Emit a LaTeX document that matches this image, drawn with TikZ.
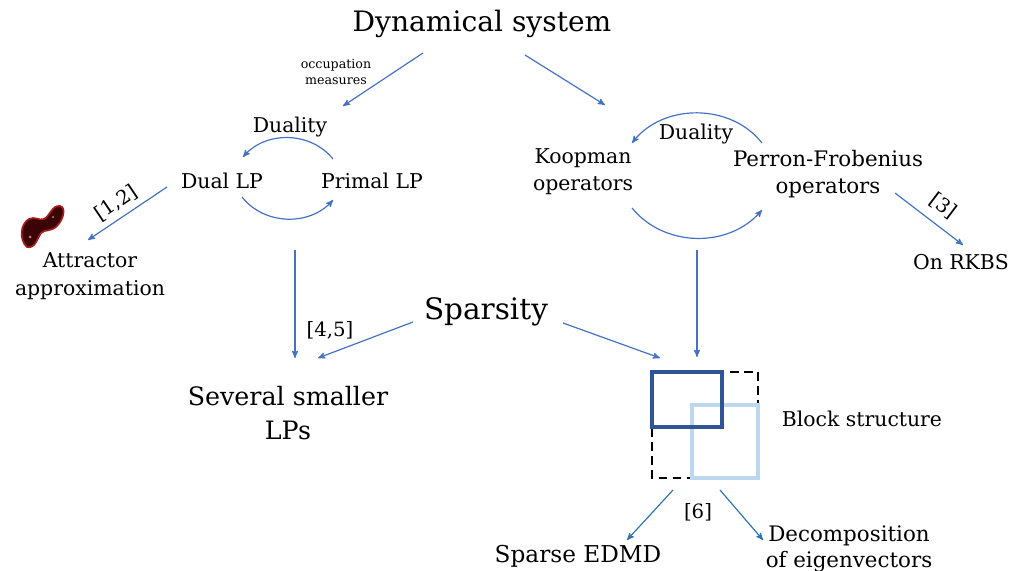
\documentclass[tikz,border=0pt]{standalone}
\usepackage{fontspec}
\setmainfont{DejaVu Serif}
\usepackage{tikz}
\usetikzlibrary{shapes,arrows}
\definecolor{arrblue}{HTML}{4472C4}
\definecolor{refblue}{HTML}{2E75B6}
\definecolor{darkbox}{HTML}{2F5597}
\definecolor{lightbox}{HTML}{BDD7EE}
\definecolor{blobred}{HTML}{3A0406}
\definecolor{blobedge}{HTML}{A81C1C}
\tikzstyle{invis} = [draw=none, align=center, inner sep=0pt]
\tikzstyle{txt} = [invis, font=\fontsize{14.5}{19}\selectfont]
\tikzstyle{big} = [invis, font=\fontsize{20}{24}\selectfont]
\tikzstyle{small} = [invis, font=\fontsize{9}{11}\selectfont]
\tikzstyle{cite} = [invis, font=\fontsize{14}{17}\selectfont]
\tikzstyle{blockbox} = [line width=2.8pt]

\begin{document}
\begin{tikzpicture}[->,>=stealth',x=0.025cm,y=0.025cm,every edge/.style={draw=arrblue, line width=0.85pt}]
\useasboundingbox (0,0) rectangle (1013,-571);

\node[big] (dyn) at (482,-24) {Dynamical system};
\node[small] (occ) at (336,-72) {occupation\\measures};

\node[txt] (dualL) at (290,-127) {Duality};
\node[txt] (dualLP) at (222,-181) {Dual LP};
\node[txt] (primalLP) at (372,-181) {Primal LP};
\node[txt, font=\fontsize{14.5}{20}\selectfont] (attr) at (90,-276) {Attractor\\approximation};
\node[cite, rotate=34] (c12) at (116,-203) {[1,2]};

\node[txt] (koop) at (583,-172) {Koopman\\operators};
\node[txt, font=\fontsize{15.2}{19}\selectfont] (pf) at (828,-174) {Perron-Frobenius\\operators};
\node[txt] (dualR) at (696,-134) {Duality};
\node[cite, rotate=-37] (c3) at (943,-206) {[3]};
\node[txt] (rkbs) at (961,-262) {On RKBS};

\node[big, font=\fontsize{21}{25}\selectfont] (spars) at (486,-312) {Sparsity};
\node[cite] (c45) at (330,-330) {[4,5]};
\node[txt, font=\fontsize{18}{24}\selectfont] (several) at (288,-413) {Several smaller\\LPs};

\node[txt] (block) at (862,-419) {Block structure};
\node[cite] (c6) at (698,-512) {[6]};
\node[txt, font=\fontsize{16.5}{20}\selectfont] (sedmd) at (578,-556) {Sparse EDMD};
\node[txt, font=\fontsize{15.2}{18}\selectfont] (decomp) at (849,-549) {Decomposition\\of eigenvectors};

% arrow ends
\coordinate (d1) at (423,-53);  \coordinate (d2) at (343,-106);
\coordinate (d3) at (525,-55);  \coordinate (d4) at (605,-105);
\coordinate (l1) at (333,-159); \coordinate (l2) at (243,-157);
\coordinate (l3) at (242,-197); \coordinate (l4) at (333,-200);
\coordinate (r1) at (762,-143); \coordinate (r2) at (632,-143);
\coordinate (r3) at (632,-208); \coordinate (r4) at (762,-210);
\coordinate (a1) at (167,-187); \coordinate (a2) at (88,-240);
\coordinate (p1) at (895,-193); \coordinate (p2) at (963,-245);
\coordinate (v1) at (295,-250); \coordinate (v2) at (295,-358);
\coordinate (v3) at (697,-250); \coordinate (v4) at (697,-357);
\coordinate (s1) at (413,-322); \coordinate (s2) at (318,-358);
\coordinate (s3) at (563,-323); \coordinate (s4) at (660,-358);
\coordinate (b1) at (673,-490); \coordinate (b2) at (627,-540);
\coordinate (b3) at (720,-490); \coordinate (b4) at (763,-540);

\path
(d1) edge [] node {} (d2)
(d3) edge [] node {} (d4)
(l1) edge [bend right=50] node {} (l2)
(l3) edge [bend right=50] node {} (l4)
(r1) edge [bend right=52] node {} (r2)
(r3) edge [bend right=50] node {} (r4)
(a1) edge [] node {} (a2)
(p1) edge [] node {} (p2)
(v1) edge [] node {} (v2)
(v3) edge [] node {} (v4)
(s1) edge [] node {} (s2)
(s3) edge [] node {} (s4);

\path
(b1) edge [draw=refblue] node {} (b2)
(b3) edge [draw=refblue] node {} (b4);

% block structure
\draw[-, draw=black, line width=1.8pt, dash pattern=on 6pt off 4pt] (652,-372) rectangle (758,-478);
\draw[-, blockbox, draw=lightbox] (692,-405) rectangle (758,-478);
\draw[-, blockbox, draw=darkbox] (652,-372) rectangle (722,-427);

% attractor
\draw[-, draw=blobedge, line width=1.2pt, fill=blobred]
(27,-247) .. controls (19,-240) and (20,-224) .. (29,-219)
.. controls (35,-216) and (39,-221) .. (44,-219)
.. controls (50,-216) and (52,-205) .. (60,-206)
.. controls (66,-207) and (64,-219) .. (57,-226)
.. controls (51,-232) and (45,-229) .. (41,-233)
.. controls (37,-239) and (35,-249) .. (27,-247) -- cycle;
\fill[blobedge!60] (30,-237) circle (1.5);
\fill[blobedge!60] (53,-217) circle (1.2);

\end{tikzpicture}
\end{document}
